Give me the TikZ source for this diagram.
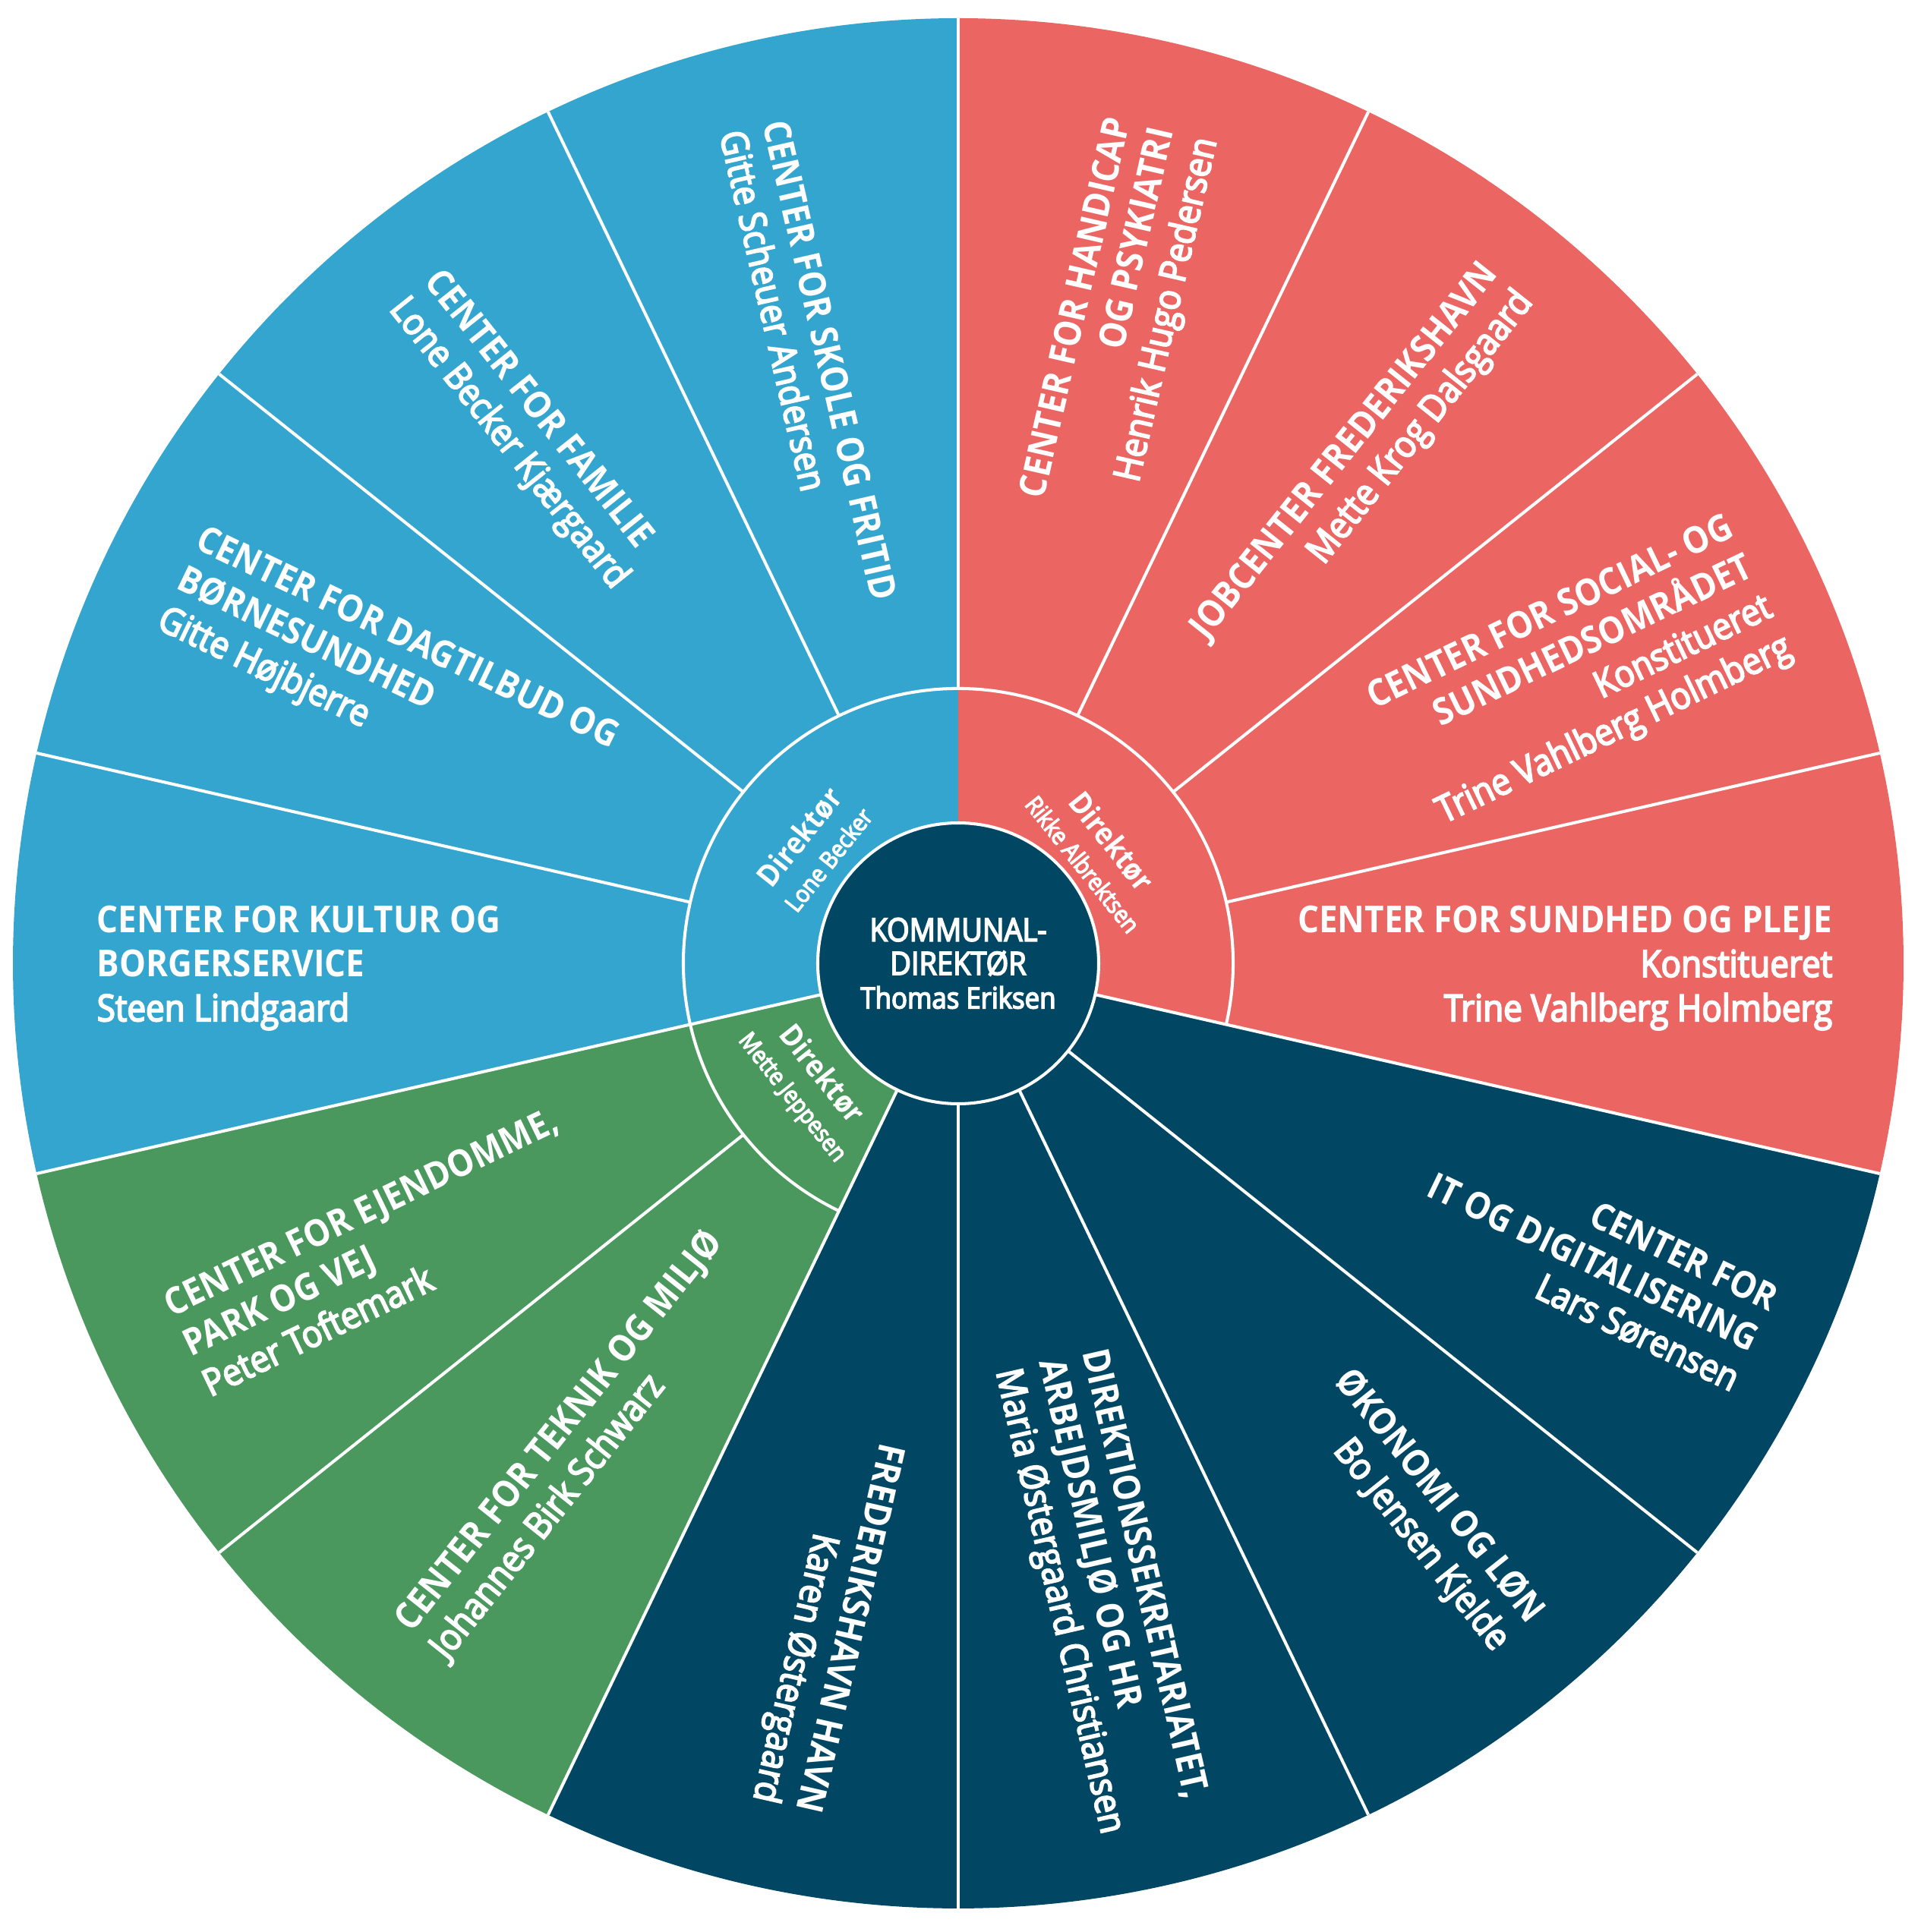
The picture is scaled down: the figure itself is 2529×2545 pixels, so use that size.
\documentclass[tikz,border=0pt]{standalone}
\usepackage{fontspec}
\setmainfont{Open Sans}[FakeStretch=0.9]
\newfontfamily\semibold{Open Sans}[FakeStretch=0.9,RawFeature={embolden=4}]
\definecolor{skyblue}{HTML}{33A5CF}
\definecolor{coral}{HTML}{EB6562}
\definecolor{leaf}{HTML}{4A985D}
\definecolor{navy}{HTML}{014763}
\tikzset{divider/.style={draw=white, line width=1.15pt}}
\tikzset{seglabel/.style={text=white, inner sep=0pt, font=\fontsize{13.9}{16.6}\selectfont}}
\tikzset{lblin/.style={seglabel, anchor=west, align=left}}
\tikzset{lblout/.style={seglabel, anchor=east, align=right}}
\tikzset{ringlabel/.style={text=white, inner sep=0pt, align=center, font=\fontsize{11.5}{13}\selectfont}}
\newcommand{\ttl}{\bfseries}
\newcommand{\nm}{\mdseries\semibold}
\newcommand{\rnm}{\mdseries\semibold\fontsize{9}{13.2}\selectfont}

\begin{document}
\begin{tikzpicture}[x=0.01cm, y=0.01cm]
        \useasboundingbox (-1262,-1276) rectangle (1267,1269);
        % sectors
        \foreach \a/\b/\c in {90/192.857/skyblue, 192.857/244.286/leaf, 244.286/347.143/navy, -12.857/90/coral}
            \fill[\c] (0,0) -- (\a:1245) arc[start angle=\a, end angle=\b, radius=1245] -- cycle;
        \foreach \a in {12.857,38.571,64.286,90,115.714,141.429,167.143,218.571}
            \draw[divider] (\a:362) -- (\a:1245);
        \foreach \a in {-12.857,192.857,244.286,270,295.714,321.429}
            \draw[divider] (\a:185) -- (\a:1245);
        \draw[divider] (-12.857:362) arc[start angle=-12.857, end angle=244.286, radius=362];
        \draw[divider, fill=navy] (0,0) circle[radius=185];

        \node[align=center, text=white, inner sep=0pt, font=\fontsize{12}{12.6}\selectfont] (kd) at (0,0)
            {\semibold KOMMUNAL-\\\semibold DIREKTØR\\\semibold\fontsize{11}{13}\selectfont Thomas Eriksen};

        \node[ringlabel, rotate=51.43] (dirlb) at (141.43:245) {\ttl Direktør\\\rnm Lone Becker};
        \node[ringlabel, rotate=-51.43] (dirra) at (38.5:236) {\ttl Direktør\\\rnm Rikke Albrektsen};
        \node[ringlabel, rotate=-51.43] (dirmj) at (219:256) {\ttl Direktør\\\rnm Mette Jeppesen};

        \node[lblout, rotate=77.14] (handicap) at (76.1:1133) {\ttl CENTER FOR HANDICAP\\\ttl OG PSYKIATRI\\\nm Henrik Hugo Pedersen};
        \node[lblout, rotate=51.43] (jobcenter) at (51:1154) {\ttl JOBCENTER FREDERIKSHAVN\\\nm Mette Krog Dalsgaard};
        \node[lblout, rotate=25.71] (social) at (25.1:1168) {\ttl CENTER FOR SOCIAL- OG\\\ttl SUNDHEDSOMRÅDET\\\nm Konstitueret\\\nm Trine Vahlberg Holmberg};
        \node[lblout] (pleje) at (-0.3:1152) {\ttl CENTER FOR SUNDHED OG PLEJE\\\nm Konstitueret\\\nm Trine Vahlberg Holmberg};
        \node[lblout, rotate=-25.71] (it) at (-25.3:1163) {\ttl CENTER FOR\\\ttl IT OG DIGITALISERING\\\nm Lars Sørensen};
        \node[lblout, rotate=-51.43] (okonomi) at (-50.1:1150) {\ttl ØKONOMI OG LØN\\\nm Bo Jensen Kjelde};
        \node[lblin, rotate=-77.14] (direktion) at (-77.25:535) {\ttl DIREKTIONSSEKRETARIATET,\\\ttl ARBEJDSMILJØ OG HR\\\nm Maria Østergaard Christiansen};
        \node[lblout, rotate=-102.86] (havn) at (258.3:1135) {\ttl FREDERIKSHAVN HAVN\\\nm Karen Østergaard};
        \node[lblin, rotate=51.43] (teknik) at (231.6:1139) {\ttl CENTER FOR TEKNIK OG MILJØ\\\nm Johannes Birk Schwarz};
        \node[lblin, rotate=25.71] (ejendomme) at (206.3:1136) {\ttl CENTER FOR EJENDOMME,\\\ttl PARK OG VEJ\\\nm Peter Toftemark};
        \node[lblin] (kultur) at (180.3:1135) {\ttl CENTER FOR KULTUR OG\\\ttl BORGERSERVICE\\\nm Steen Lindgaard};
        \node[lblin, rotate=-25.71] (dagtilbud) at (153.8:1145) {\ttl CENTER FOR DAGTILBUD OG\\\ttl BØRNESUNDHED\\\nm Gitte Højbjerre};
        \node[lblin, rotate=-51.43] (familie) at (129:1142) {\ttl CENTER FOR FAMILIE\\\nm Lone Becker Kjærgaard};
        \node[lblin, rotate=-77.14] (skole) at (103.7:1136) {\ttl CENTER FOR SKOLE OG FRITID\\\nm Gitte Scheuer Andersen};
    \end{tikzpicture}
\end{document}
